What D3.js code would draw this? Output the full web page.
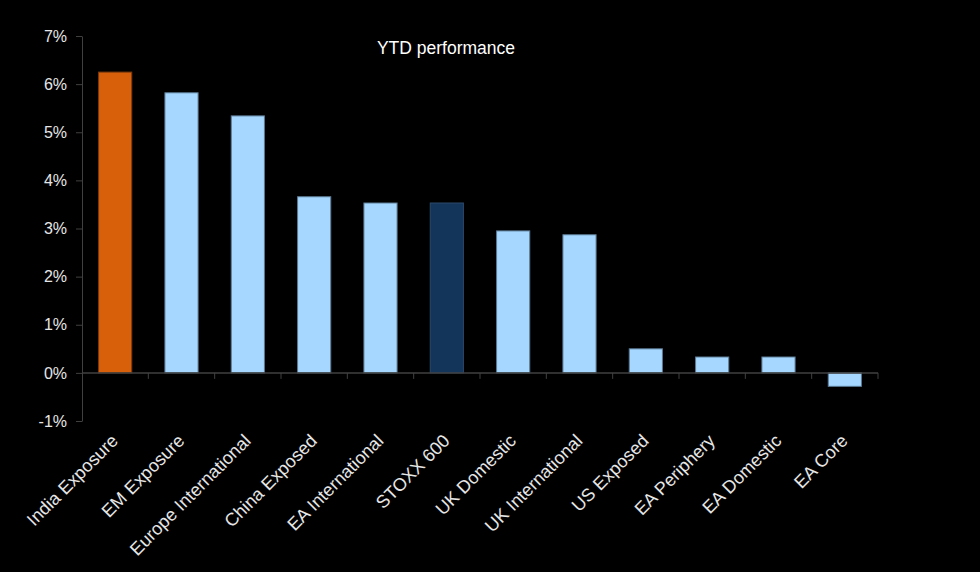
<!DOCTYPE html>
<html>
<head>
<meta charset="utf-8">
<script src="https://cdn.jsdelivr.net/npm/d3@7"></script>
<style>
  html, body { margin: 0; padding: 0; background: #000; }
  svg { display: block; }
</style>
</head>
<body>
<svg id="chart"></svg>
<script>
// Chart data
const categories = [
    'India Exposure', 'EM Exposure', 'Europe International', 'China Exposed',
    'EA International', 'STOXX 600', 'UK Domestic', 'UK International',
    'US Exposed', 'EA Periphery', 'EA Domestic', 'EA Core'
];
const ytdValues = [6.25, 5.82, 5.34, 3.66, 3.53, 3.53, 2.95, 2.87, 0.50, 0.33, 0.33, -0.28];
const yTicks = [-1, 0, 1, 2, 3, 4, 5, 6, 7];
const chartTitle = 'YTD performance';

const width = 980;
const height = 572;
const margin = { top: 36, left: 82, right: 102, bottomY: 421 };
const font = 'Arial, "Liberation Sans", sans-serif';

const svg = d3.select('#chart')
    .attr('width', width)
    .attr('height', height)
    .attr('viewBox', `0 0 ${width} ${height}`);

svg.append('rect')
    .attr('width', width)
    .attr('height', height)
    .attr('fill', '#000');

const x = d3.scaleBand()
    .domain(categories)
    .range([margin.left, width - margin.right])
    .paddingInner(0.5)
    .paddingOuter(0.25);

const xBand = d3.scaleBand()
    .domain(categories)
    .range([margin.left, width - margin.right]);

const y = d3.scaleLinear()
    .domain([-1, 7])
    .range([margin.bottomY, margin.top]);

// Bar colours: highlighted India, benchmark STOXX 600, rest light blue
function barFill(name) {
    if (name === 'India Exposure') return '#d9600b';
    if (name === 'STOXX 600') return '#14355a';
    return '#a6d8ff';
}
function barStroke(name) {
    if (name === 'India Exposure') return '#7a3a0c';
    if (name === 'STOXX 600') return '#2b4a6a';
    return '#5b7a94';
}

// Bars
svg.append('g')
    .selectAll('rect')
    .data(categories)
    .enter()
    .append('rect')
    .attr('x', d => x(d))
    .attr('width', x.bandwidth())
    .attr('y', (d, i) => y(Math.max(0, ytdValues[i])))
    .attr('height', (d, i) => Math.abs(y(ytdValues[i]) - y(0)))
    .attr('fill', d => barFill(d))
    .attr('stroke', d => barStroke(d))
    .attr('stroke-width', 1);

// Y axis
const yAxis = svg.append('g')
    .attr('transform', `translate(${margin.left},0)`)
    .call(d3.axisLeft(y).tickValues(yTicks).tickSize(6).tickSizeOuter(0)
        .tickFormat(d => d + '%'));
yAxis.select('.domain').attr('stroke', '#404040');
yAxis.selectAll('.tick line').attr('stroke', '#404040');
yAxis.selectAll('.tick text')
    .attr('x', -15)
    .attr('fill', '#e6e6e6')
    .attr('font-family', font)
    .attr('font-size', 16);

// X axis along the zero line, ticks between categories
const bounds = categories.map(c => xBand(c)).concat([width - margin.right]);
const xAxisG = svg.append('g');
xAxisG.append('line')
    .attr('x1', margin.left)
    .attr('x2', width - margin.right)
    .attr('y1', y(0))
    .attr('y2', y(0))
    .attr('stroke', '#404040')
    .attr('stroke-width', 1.5);
xAxisG.selectAll('line.tk')
    .data(bounds.slice(1))
    .enter()
    .append('line')
    .attr('class', 'tk')
    .attr('x1', d => d)
    .attr('x2', d => d)
    .attr('y1', y(0))
    .attr('y2', y(0) + 6)
    .attr('stroke', '#404040');

// Rotated category labels
svg.append('g')
    .selectAll('text')
    .data(categories)
    .enter()
    .append('text')
    .attr('transform', d => `translate(${xBand(d) + xBand.bandwidth() / 2 + 4},442) rotate(-45)`)
    .attr('text-anchor', 'end')
    .attr('fill', '#e6e6e6')
    .attr('font-family', font)
    .attr('font-size', 18)
    .text(d => d);

// Title
svg.append('text')
    .attr('x', 446)
    .attr('y', 54)
    .attr('text-anchor', 'middle')
    .attr('fill', '#ffffff')
    .attr('font-family', font)
    .attr('font-size', 17.5)
    .text(chartTitle);
</script>
</body>
</html>
